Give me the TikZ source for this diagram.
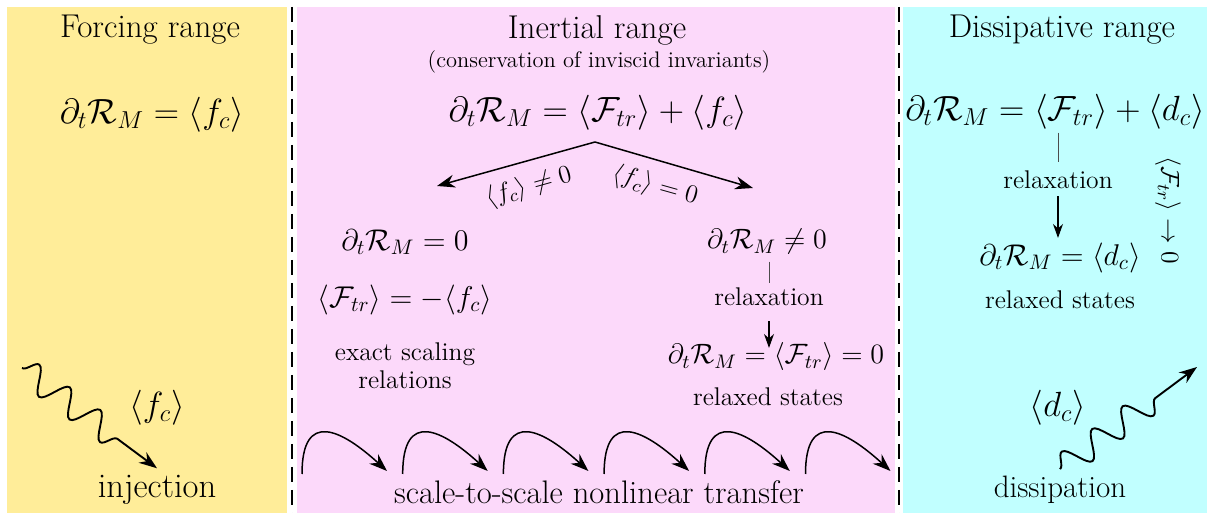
\documentclass[tikz,border=0pt]{standalone}
\usepackage{fix-cm}
\usepackage{amsmath}
\usepackage{amssymb}
\usepackage{xcolor}
\usepackage{tikz}
\usetikzlibrary{arrows.meta, positioning, decorations.pathmorphing}

\definecolor{forceyellow}{RGB}{255,237,153}
\definecolor{inertpink}{RGB}{252,217,250}
\definecolor{dissipcyan}{RGB}{193,255,255}

\tikzset{
  title/.style={font=\fontsize{16.5}{20}\selectfont},
  label/.style={font=\fontsize{15.5}{19}\selectfont},
  bigeq/.style={font=\fontsize{17.5}{21}\selectfont},
  eq/.style={font=\fontsize{15}{18}\selectfont},
  note/.style={font=\fontsize{12.8}{14}\selectfont, align=center},
  flow/.style={-{Stealth[length=9pt,width=6.5pt]}, line width=0.75pt},
  smallflow/.style={-{Stealth[length=7pt,width=5pt]}, line width=0.6pt},
  tick/.style={draw=black!70, line width=0.4pt},
  separator/.style={line width=1pt, dash pattern=on 7.5pt off 4pt},
  wave/.style={line width=0.95pt, decorate, decoration={snake, amplitude=6.5pt, segment length=19pt, post length=22pt}}
}

\begin{document}
\begin{tikzpicture}[x=0.5pt, y=0.5pt]
\useasboundingbox (0,0) rectangle (1207,-513);

% Panels
\fill[forceyellow] (7,-7) rectangle (287,-513);
\fill[inertpink] (297,-7) rectangle (895,-513);
\fill[dissipcyan] (903,-7) rectangle (1207,-513);
\draw[separator] (292,-7) -- (292,-513);
\draw[separator] (899,-7) -- (899,-513);

% Forcing range
\node[title] (forcetitle) at (150,-30) {Forcing range};
\node[bigeq] (forceeq) at (152,-115) {$\partial_t \mathcal{R}_M = \langle f_c \rangle$};
\node[bigeq] (forcefc) at (157,-408) {$\langle f_c \rangle$};
\node[label, font=\fontsize{17.3}{20}\selectfont] (inject) at (157,-490) {injection};
\coordinate (wavein) at (22,-368);
\draw[flow, wave] (wavein) -- (inject.north);

% Inertial range
\node[title] (inerttitle) at (597,-30) {Inertial range};
\node[font=\fontsize{11.25}{13}\selectfont] (inertsub) at (599,-62) {(conservation of inviscid invariants)};
\node[bigeq] (inerteq) at (598,-113) {$\partial_t \mathcal{R}_M = \langle \mathcal{F}_{tr} \rangle + \langle f_c \rangle$};
\coordinate (split) at (595,-142);
\coordinate (forcedend) at (437,-186);
\coordinate (freeend) at (753,-188);
\draw[flow] (split) -- (forcedend);
\draw[flow] (split) -- (freeend);
\node[note, rotate=15.7] (forcedlbl) at (529,-187) {$\langle f_c \rangle \neq 0$};
\node[note, rotate=-15.7] (freelbl) at (655,-186) {$\langle f_c \rangle = 0$};

% forced branch
\node[eq] (steadyeq) at (405,-242) {$\partial_t \mathcal{R}_M = 0$};
\node[eq] (fluxeq) at (405,-300) {$\langle \mathcal{F}_{tr} \rangle = -\langle f_c \rangle$};
\node[note] (exact) at (405,-366) {exact scaling\\relations};

% free branch
\node[eq, font=\fontsize{14}{17}\selectfont] (unsteadyeq) at (767,-242) {$\partial_t \mathcal{R}_M \neq 0$};
\node[note] (relaxin) at (769,-297) {relaxation};
\node[eq, font=\fontsize{14}{17}\selectfont] (relaxeq) at (776,-357) {$\partial_t \mathcal{R}_M = \langle \mathcal{F}_{tr} \rangle = 0$};
\node[note] (relaxedin) at (768,-397) {relaxed states};
\draw[tick, shorten <=0pt, shorten >=-1pt] (unsteadyeq.south -| relaxin) -- (relaxin.north);
\draw[smallflow, shorten <=4pt, shorten >=-6pt] (relaxin.south) -- (relaxin.south |- relaxeq.north);

% cascade
\node[label, font=\fontsize{16.3}{19}\selectfont] (cascade) at (599,-492) {scale-to-scale nonlinear transfer};
\foreach \i in {0,...,5} {
  \coordinate (hopstart\i) at (302+100.7*\i,-474);
  \coordinate (hopend\i) at (387+100.7*\i,-471);
  \draw[flow] (hopstart\i) .. controls +(0,65) and +(-45,41) .. (hopend\i);
}

% Dissipative range
\node[title] (dissiptitle) at (1062,-30) {Dissipative range};
\node[bigeq] (dissipeq) at (1055,-112) {$\partial_t \mathcal{R}_M = \langle \mathcal{F}_{tr} \rangle + \langle d_c \rangle$};
\node[note] (relaxout) at (1058,-180) {relaxation};
\node[eq] (dampeq) at (1060,-258) {$\partial_t \mathcal{R}_M = \langle d_c \rangle$};
\node[note] (relaxedout) at (1060,-300) {relaxed states};
\node[note, rotate=-90] (fluxvanish) at (1168,-210) {$\langle \mathcal{F}_{tr} \rangle \rightarrow 0$};
\draw[tick, shorten <=-2pt, shorten >=1pt] (dissipeq.south -| relaxout) -- (relaxout.north);
\draw[smallflow, shorten <=0pt, shorten >=-1pt] (relaxout.south) -- (relaxout.south |- dampeq.north);
\node[bigeq] (dissipdc) at (1058,-408) {$\langle d_c \rangle$};
\node[label] (dissip) at (1060,-490) {dissipation};
\coordinate (waveout) at (1197,-367);
\draw[flow, wave] (dissip.north) -- (waveout);
\end{tikzpicture}
\end{document}
